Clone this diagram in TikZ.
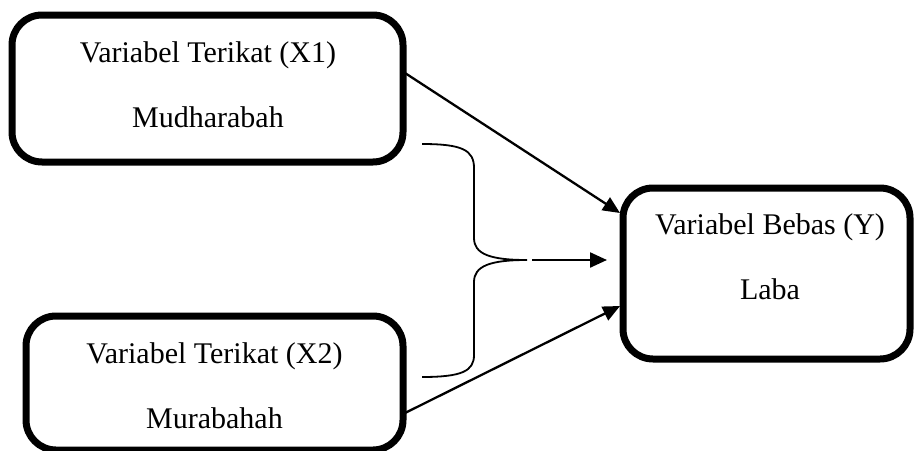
\documentclass[tikz,border=0pt]{standalone}
\usepackage{fontspec}
\setmainfont{Liberation Serif}
\usetikzlibrary{arrows.meta}
\begin{document}
\begin{tikzpicture}[x=1pt,y=-1pt,
  varbox/.style={draw=black, line width=7pt, rounded corners=30pt, inner sep=0pt, fill=white},
  lbl/.style={anchor=base, inner sep=0pt, font=\fontsize{30}{35}\selectfont},
  conn/.style={line width=2.3pt, -{Triangle[length=17pt,width=15pt]}},
  bracepath/.style={line width=1.8pt}
]
\useasboundingbox (0,0) rectangle (915,450);
% boxes
\node[varbox, minimum width=391pt, minimum height=147pt] (b1) at (207.5,88.5) {};
\node[varbox, minimum width=377pt, minimum height=134pt] (b2) at (214.5,383) {};
\node[varbox, minimum width=287pt, minimum height=171pt] (by) at (766.5,273.5) {};
% texts
\node[lbl] (t1a) at (208,62) {Variabel Terikat (X1)};
\node[lbl] (t1b) at (208,127) {Mudharabah};
\node[lbl] (t2a) at (214.5,363) {Variabel Terikat (X2)};
\node[lbl] (t2b) at (214.5,428) {Murabahah};
\node[lbl] (tya) at (770,234) {Variabel Bebas (Y)};
\node[lbl] (tyb) at (770,299) {Laba};
% connector endpoints
\coordinate (s1) at (405,73);
\coordinate (e1) at (620,213);
\coordinate (s2) at (405,413);
\coordinate (e2) at (620,306);
\coordinate (bt) at (527,260);
\coordinate (ms) at (532,260);
\coordinate (me) at (607,260);
% brace
\draw[bracepath] (422,144) .. controls (462,144) and (474,150) .. (474,168)
  -- (474,238) .. controls (474,254) and (490,260) .. (bt)
  .. controls (490,260) and (474,266) .. (474,282)
  -- (474,355) .. controls (474,371) and (462,377) .. (422,377);
% arrows
\draw[conn] (s1) -- (e1);
\draw[conn] (s2) -- (e2);
\draw[conn] (ms) -- (me);
\end{tikzpicture}
\end{document}
